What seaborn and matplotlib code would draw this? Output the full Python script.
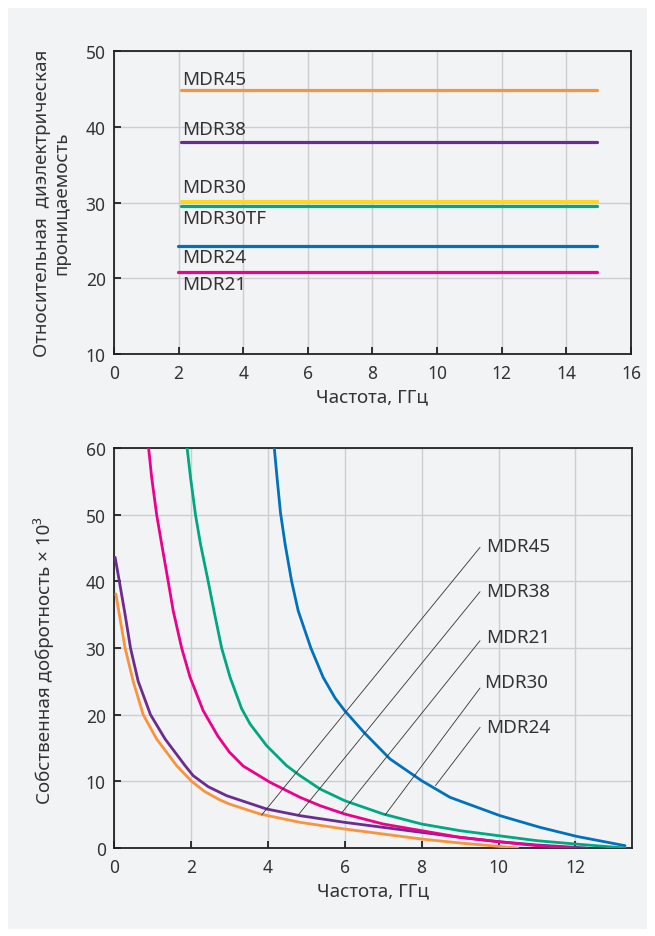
import numpy as np
import pandas as pd
import seaborn as sns
import matplotlib.pyplot as plt
from matplotlib.patches import Rectangle

# Top chart: relative permittivity vs frequency (flat lines)
top_names = ["MDR45", "MDR38", "MDR30", "MDR30TF", "MDR24", "MDR21"]
top_eps = [44.9, 38.0, 30.2, 29.55, 24.3, 20.85]
top_x_start = [2.06, 2.06, 2.06, 2.06, 1.97, 1.97]
top_x_end = [14.95, 14.95, 14.95, 14.95, 14.95, 14.95]
top_label_y = [46.35, 39.75, 32.0, 28.0, 22.75, 19.2]
top_label_x = 2.12

# Bottom chart: unloaded Q (x10^3) vs frequency
q45_x = [0.05, 0.14, 0.29, 0.5, 0.76, 1.11, 1.63, 2.02, 2.35, 2.76, 3.0, 3.8, 4.84, 6.0, 7.0, 8.0, 9.0, 10.0, 10.5]
q45_y = [38.1, 35.0, 30.0, 25.0, 20.0, 16.35, 12.35, 10.0, 8.5, 7.2, 6.6, 5.1, 3.85, 2.85, 2.1, 1.35, 0.75, 0.25, 0.0]

q38_x = [0.03, 0.14, 0.29, 0.43, 0.63, 0.95, 1.33, 1.85, 2.06, 2.45, 2.93, 3.97, 4.84, 6.0, 7.0, 8.0,
         9.0, 10.0, 11.0, 12.0, 12.3]
q38_y = [43.6, 40.0, 35.0, 30.0, 25.0, 20.0, 16.35, 12.35, 10.85, 9.2, 7.85, 5.85, 4.85, 3.85, 3.1, 2.35,
         1.6, 0.95, 0.45, 0.1, 0.0]

q21_x = [0.89, 0.98, 1.11, 1.24, 1.41, 1.54, 1.76, 1.98, 2.32, 2.7, 3.0, 3.36, 4.06, 4.84, 5.36, 6.0,
         7.0, 8.0, 9.0, 10.0, 11.0, 12.0]
q21_y = [60.6, 55.6, 50.0, 45.6, 40.0, 35.6, 30.0, 25.6, 20.6, 16.8, 14.4, 12.3, 9.85, 7.6, 6.35, 5.1,
         3.6, 2.6, 1.6, 0.95, 0.35, 0.0]

q30_x = [1.89, 1.99, 2.12, 2.25, 2.45, 2.6, 2.8, 3.02, 3.32, 3.54, 3.97, 4.49, 4.84, 5.36, 6.0, 7.0,
         8.0, 9.0, 10.0, 11.0, 12.0, 13.29]
q30_y = [60.6, 55.6, 50.0, 45.6, 40.0, 35.6, 30.0, 25.6, 20.9, 18.6, 15.35, 12.35, 10.85, 8.85, 7.1, 5.1,
         3.6, 2.6, 1.85, 1.1, 0.6, 0.0]

q24_x = [4.16, 4.24, 4.33, 4.45, 4.62, 4.79, 5.12, 5.44, 5.75, 6.0, 6.5, 7.18, 8.0, 8.74, 10.04, 11.08,
         12.03, 13.29]
q24_y = [60.6, 55.6, 50.3, 45.6, 40.0, 35.6, 30.0, 25.6, 22.5, 20.6, 17.35, 13.35, 10.1, 7.6, 4.85, 3.1,
         1.75, 0.35]

# Leader lines and labels for the bottom chart
lead_names = ["MDR45", "MDR38", "MDR21", "MDR30", "MDR24"]
lead_tip_x = [3.84, 4.79, 5.92, 7.05, 8.36]
lead_tip_y = [4.95, 4.95, 5.25, 4.95, 9.35]
lead_end_x = [9.52, 9.52, 9.52, 9.52, 9.52]
lead_end_y = [45.1, 38.45, 31.1, 24.0, 18.1]
lead_text_x = [9.69, 9.69, 9.69, 9.62, 9.69]
lead_text_y = [45.3, 38.5, 31.6, 24.9, 18.1]

colors = {
    "MDR45": "#f7943d",
    "MDR38": "#6a2c91",
    "MDR30": "#fcd920",
    "MDR30TF": "#00a881",
    "MDR24": "#0071bc",
    "MDR21": "#ec008c",
}
# In the lower chart MDR30 is drawn in green
bottom_colors = dict(colors)
bottom_colors["MDR30"] = "#00a881"

bg = "#f2f3f5"
sns.set_theme(style="whitegrid")
plt.rcParams["font.family"] = ["Noto Sans", "DejaVu Sans"]
plt.rcParams["axes.facecolor"] = bg
text_color = "#333333"
fs_text = 13.5
fs_tick = 12.5

fig = plt.figure(figsize=(6.55, 9.37), dpi=100, facecolor="white")
fig.patches.append(Rectangle((0.012, 0.007), 0.976, 0.983, transform=fig.transFigure,
                             facecolor=bg, edgecolor="none", zorder=-10))

ax1 = fig.add_axes([0.1740, 0.6211, 0.7893, 0.3234])
ax2 = fig.add_axes([0.1740, 0.0939, 0.7908, 0.4269])

# ---- top chart ----
rows = []
for n, e, xs, xe in zip(top_names, top_eps, top_x_start, top_x_end):
    rows.append({"material": n, "f": xs, "eps": e})
    rows.append({"material": n, "f": xe, "eps": e})
df_top = pd.DataFrame(rows)

sns.lineplot(data=df_top, x="f", y="eps", hue="material", palette=colors,
             linewidth=2.3, legend=False, ax=ax1, zorder=3)
for n, ly in zip(top_names, top_label_y):
    ax1.text(top_label_x, ly, n, fontsize=fs_text, color=text_color, va="center", ha="left")

ax1.set_xlim(0, 16)
ax1.set_ylim(10, 50)
ax1.set_xticks(np.arange(0, 17, 2))
ax1.set_yticks(np.arange(10, 51, 10))
ax1.set_xlabel("Частота, ГГц", fontsize=fs_text, color=text_color, labelpad=4)
ax1.set_ylabel("Относительная  диэлектрическая\nпроницаемость", fontsize=fs_text,
               color=text_color, linespacing=1.05)
ax1.yaxis.set_label_coords(-0.085, 0.5)

# ---- bottom chart ----
curves = [("MDR45", q45_x, q45_y), ("MDR38", q38_x, q38_y), ("MDR21", q21_x, q21_y),
          ("MDR30", q30_x, q30_y), ("MDR24", q24_x, q24_y)]
df_bot = pd.concat([pd.DataFrame({"material": n, "f": xs, "q": ys}) for n, xs, ys in curves],
                   ignore_index=True)
sns.lineplot(data=df_bot, x="f", y="q", hue="material", palette=bottom_colors,
             linewidth=2.0, legend=False, sort=False, estimator=None, ax=ax2, zorder=3)

for n, tx, ty, ex, ey, lx, lyy in zip(lead_names, lead_tip_x, lead_tip_y, lead_end_x,
                                      lead_end_y, lead_text_x, lead_text_y):
    ax2.plot([tx, ex], [ty, ey], color="#333333", linewidth=0.6, zorder=4)
    ax2.text(lx, lyy, n, fontsize=fs_text, color=text_color, va="center", ha="left")

ax2.set_xlim(0, 13.47)
ax2.set_ylim(0, 60)
ax2.set_xticks(np.arange(0, 13, 2))
ax2.set_yticks(np.arange(0, 61, 10))
ax2.set_xlabel("Частота, ГГц", fontsize=fs_text, color=text_color, labelpad=4)
ax2.set_ylabel("Собственная добротность × 10³", fontsize=fs_text, color=text_color)
ax2.yaxis.set_label_coords(-0.116, 0.47)

for ax in (ax1, ax2):
    ax.grid(True, color="#cdcecf", linewidth=1.0)
    for s in ax.spines.values():
        s.set_color("#222222")
        s.set_linewidth(1.3)
    ax.tick_params(axis="both", direction="in", length=5, width=1.3, color="#222222",
                   labelsize=fs_tick, labelcolor=text_color,
                   bottom=True, left=True, top=False, right=False)
    ax.tick_params(axis="x", pad=7)
    ax.tick_params(axis="y", pad=6)

fig.savefig("out.png", dpi=100, facecolor="white")
